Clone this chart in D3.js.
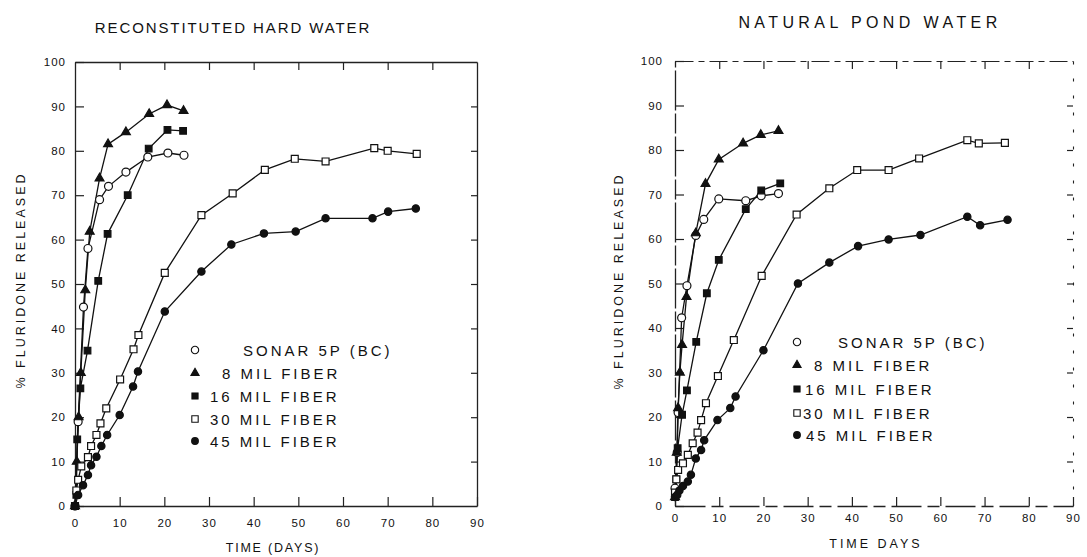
<!DOCTYPE html>
<html><head><meta charset="utf-8">
<script src="https://cdn.jsdelivr.net/npm/d3@7"></script>
<style>
html,body{margin:0;padding:0;background:#fff;}
svg text{font-family:"Liberation Sans",Arial,Helvetica,sans-serif;fill:#111;}
</style></head>
<body>
<svg id="chart" width="1087" height="557"></svg>
<script>
// ---------- data ----------
const panelTitles = ["RECONSTITUTED HARD WATER", "NATURAL POND WATER"];
const yAxisLabel = "% FLURIDONE RELEASED";
const xAxisLabels = ["TIME (DAYS)", "TIME  DAYS"];
const xTicks = [0, 10, 20, 30, 40, 50, 60, 70, 80, 90];
const yTicks = [0, 10, 20, 30, 40, 50, 60, 70, 80, 90, 100];
const seriesNames = ["SONAR 5P (BC)", "8 MIL FIBER", "16 MIL FIBER", "30 MIL FIBER", "45 MIL FIBER"];

// Reconstituted hard water
const hardSonarDays = [0, 0.7, 1.9, 2.9, 5.5, 7.5, 11.4, 16.3, 20.8, 24.4];
const hardSonarPct  = [0, 19, 44.8, 58, 69, 72, 75.2, 78.6, 79.5, 79];
const hard8Days = [0, 0.4, 0.8, 1.3, 2.3, 3.3, 5.5, 7.4, 11.4, 16.6, 20.6, 24.3];
const hard8Pct  = [0, 10, 20, 30, 48.6, 61.8, 73.8, 81.5, 84.2, 88.3, 90.3, 89];
const hard16Days = [0, 0.3, 0.5, 1.2, 2.8, 5.2, 7.3, 11.8, 16.5, 20.7, 24.2];
const hard16Pct  = [0, 2.5, 15, 26.5, 35, 50.7, 61.3, 70, 80.5, 84.7, 84.5];
const hard30Days = [0, 0.3, 0.7, 1.4, 2.9, 3.6, 4.8, 5.7, 7, 10.1, 13.1, 14.2, 20.1, 28.3, 35.3, 42.5, 49.2, 56.1, 67, 70, 76.5];
const hard30Pct  = [0, 3.5, 5.9, 8.9, 11, 13.5, 16, 18.6, 22, 28.5, 35.3, 38.5, 52.5, 65.5, 70.4, 75.7, 78.2, 77.6, 80.6, 80, 79.3];
const hard45Days = [0, 0.7, 1.8, 2.9, 3.6, 4.8, 5.9, 7.2, 10, 13, 14.1, 20.1, 28.3, 35, 42.3, 49.4, 56.1, 66.6, 70.1, 76.3];
const hard45Pct  = [0, 2.5, 4.7, 7, 9.2, 11.1, 13.5, 16, 20.5, 26.9, 30.3, 43.8, 52.8, 58.9, 61.4, 61.8, 64.8, 64.8, 66.3, 67];

// Natural pond water
const pondSonarDays = [0, 0.5, 0.7, 1.5, 2.7, 4.7, 6.5, 9.9, 16, 19.5, 23.4];
const pondSonarPct  = [4, 12, 21, 42.3, 49.5, 60.8, 64.4, 69, 68.6, 69.7, 70.2];
const pond8Days = [0, 0.4, 0.7, 1.1, 1.6, 2.6, 4.7, 6.9, 9.9, 15.4, 19.4, 23.4];
const pond8Pct  = [2, 12, 22, 30, 36.2, 47, 61.3, 72.4, 77.9, 81.5, 83.4, 84.3];
const pond16Days = [0, 0.3, 0.6, 1.6, 2.7, 4.8, 7.2, 9.9, 16, 19.5, 23.8];
const pond16Pct  = [2, 6, 13, 20.5, 26, 36.9, 47.8, 55.3, 66.7, 70.9, 72.5];
const pond30Days = [0, 0.3, 0.7, 1.8, 2.9, 4, 5.1, 5.9, 7, 9.7, 13.3, 19.6, 27.5, 34.9, 41.2, 48.3, 55.2, 66.1, 68.7, 74.6];
const pond30Pct  = [3, 6, 8.1, 9.6, 11.5, 14.1, 16.5, 19.3, 23.1, 29.2, 37.3, 51.7, 65.5, 71.4, 75.5, 75.5, 78.1, 82.2, 81.5, 81.6];
const pond45Days = [0, 0.5, 1, 1.8, 2.9, 3.6, 4.7, 5.9, 6.6, 9.6, 12.5, 13.7, 20, 27.8, 34.9, 41.4, 48.3, 55.5, 66.1, 69, 75.2];
const pond45Pct  = [2, 2.5, 3.5, 4.5, 5.5, 7, 10.7, 12.6, 14.8, 19.3, 22, 24.6, 35, 50, 54.7, 58.4, 59.9, 60.9, 65, 63.1, 64.3];

// ---------- drawing ----------
const markerStyles = [
  {type: d3.symbolCircle, size: 50, fill: "#fff"},
  {type: d3.symbolTriangle, size: 34, fill: "#111"},
  {type: d3.symbolSquare, size: 44, fill: "#111"},
  {type: d3.symbolSquare, size: 48, fill: "#fff"},
  {type: d3.symbolCircle, size: 42, fill: "#111"}
];

const svg = d3.select("#chart");

function zipSeries(days, pct) { return days.map((d, i) => ({d: d, v: pct[i]})); }

const panels = [
  {
    title: panelTitles[0], xlabel: xAxisLabels[0],
    series: [zipSeries(hardSonarDays, hardSonarPct), zipSeries(hard8Days, hard8Pct),
             zipSeries(hard16Days, hard16Pct), zipSeries(hard30Days, hard30Pct),
             zipSeries(hard45Days, hard45Pct)],
    x0: 75, x1: 477, yb: 506, yt: 62,
    titleX: 233, titleY: 33, titleSize: 15, titleSpacing: 1.9,
    ylabX: 25, ylabY: 280,
    xlabX: 273, xlabY: 552, xlabSpacing: 1.8,
    xPad: 13, yPad: 9, dashed: false,
    legX: 195, legTextX: [243, 222, 210, 210, 210], legY: [350, 373, 396, 419, 441]
  },
  {
    title: panelTitles[1], xlabel: xAxisLabels[1],
    series: [zipSeries(pondSonarDays, pondSonarPct), zipSeries(pond8Days, pond8Pct),
             zipSeries(pond16Days, pond16Pct), zipSeries(pond30Days, pond30Pct),
             zipSeries(pond45Days, pond45Pct)],
    x0: 675, x1: 1073, yb: 506, yt: 61,
    titleX: 870, titleY: 28, titleSize: 16, titleSpacing: 4.4,
    ylabX: 623, ylabY: 281,
    xlabX: 876, xlabY: 548, xlabSpacing: 3,
    xPad: 8, yPad: 12, dashed: true,
    legX: 797, legTextX: [838, 814, 805, 803, 806], legY: [342, 365, 389, 413, 435]
  }
];

panels.forEach(p => {
  const x = d3.scaleLinear().domain([0, 90]).range([p.x0, p.x1]);
  const y = d3.scaleLinear().domain([0, 100]).range([p.yb, p.yt]);
  const g = svg.append("g");

  // axes
  const xAxis = d3.axisBottom(x).tickValues(xTicks).tickSizeInner(-9).tickSizeOuter(0).tickPadding(p.xPad);
  const yAxis = d3.axisLeft(y).tickValues(yTicks).tickSizeInner(-9).tickSizeOuter(0).tickPadding(p.yPad);
  const topAxis = d3.axisTop(x).tickValues(xTicks.slice(1, -1)).tickSizeInner(-8).tickSizeOuter(0).tickFormat("");
  const rightAxis = d3.axisRight(y).tickValues(yTicks.slice(1, -1)).tickSizeInner(-6).tickSizeOuter(0).tickFormat("");

  const gx = g.append("g").attr("transform", `translate(0,${p.yb})`).call(xAxis);
  const gy = g.append("g").attr("transform", `translate(${p.x0},0)`).call(yAxis);
  const gt = g.append("g").attr("transform", `translate(0,${p.yt})`).call(topAxis);
  const gr = g.append("g").attr("transform", `translate(${p.x1},0)`).call(rightAxis);

  [gx, gy, gt, gr].forEach(a => {
    a.selectAll("path.domain").attr("stroke", "#222").attr("stroke-width", 1.3);
    a.selectAll(".tick line").attr("stroke", "#222").attr("stroke-width", 1.2);
    a.selectAll("text").attr("font-size", 11.5).attr("letter-spacing", 1).attr("fill", "#222")
      .style("font-family", "'Liberation Sans', Arial, sans-serif");
  });
  if (p.dashed) {
    gt.select("path.domain").attr("stroke-dasharray", "18,5,6,5").attr("stroke-width", 1.1);
    gr.select("path.domain").attr("stroke-dasharray", "3,14").attr("stroke-width", 1.1);
    gx.select("path.domain").attr("stroke-dasharray", "30,6,12,6");
    gy.select("path.domain").attr("stroke-dasharray", "40,3,20,3");
  }

  // titles
  g.append("text").attr("x", p.titleX).attr("y", p.titleY).attr("text-anchor", "middle")
    .attr("font-size", p.titleSize).attr("letter-spacing", p.titleSpacing).text(p.title);
  g.append("text").attr("transform", `translate(${p.ylabX},${p.ylabY}) rotate(-90)`)
    .attr("text-anchor", "middle").attr("font-size", 12.5).attr("letter-spacing", 3).attr("fill", "#333").text(yAxisLabel);
  g.append("text").attr("x", p.xlabX).attr("y", p.xlabY).attr("text-anchor", "middle")
    .attr("font-size", 12.5).attr("letter-spacing", p.xlabSpacing).text(p.xlabel);

  // lines
  const line = d3.line().x(d => x(d.d)).y(d => y(d.v));
  p.series.forEach((s, i) => {
    g.append("path").datum(s).attr("d", line).attr("fill", "none")
      .attr("stroke", "#111").attr("stroke-width", 1.3);
  });
  // markers
  p.series.forEach((s, i) => {
    const ms = markerStyles[i];
    g.selectAll(null).data(s).enter().append("path")
      .attr("d", d3.symbol().type(ms.type).size(ms.size))
      .attr("transform", d => `translate(${x(d.d)},${y(d.v)})`)
      .attr("fill", ms.fill).attr("stroke", "#111").attr("stroke-width", 1.2);
  });

  // legend
  seriesNames.forEach((name, i) => {
    const ms = markerStyles[i];
    const yy = p.legY[i];
    g.append("path").attr("d", d3.symbol().type(ms.type).size(ms.size * 0.85))
      .attr("transform", `translate(${p.legX},${yy})`)
      .attr("fill", ms.fill).attr("stroke", "#111").attr("stroke-width", 1.1);
    g.append("text").attr("x", p.legTextX[i]).attr("y", yy + 5.5)
      .attr("font-size", 15).attr("letter-spacing", 3).text(name);
  });
});
</script>
</body></html>
